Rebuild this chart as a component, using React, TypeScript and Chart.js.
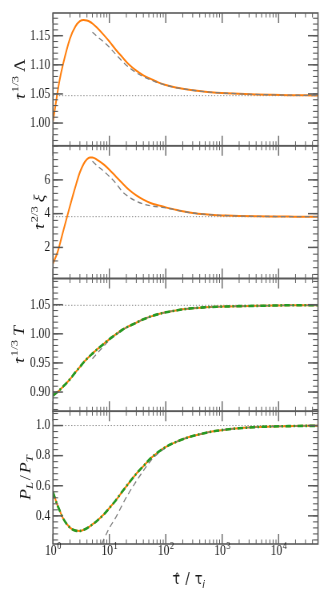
import { useEffect, useRef } from 'react';
import { Chart, registerables } from 'chart.js';

Chart.register(...registerables);

// ---------------- data ----------------
const tau = [1, 1.2, 1.3, 1.5, 2, 2.5, 3, 3.5, 4, 4.5, 5, 6, 8, 10, 13, 17, 22, 30, 40, 55, 75, 100, 150, 200, 300, 500, 800, 1200, 2000, 4000, 8000, 15000, 30000, 50000];
const lambdaScaled = [1.003, 1.052, 1.072, 1.1, 1.145, 1.166, 1.175, 1.177, 1.176, 1.174, 1.171, 1.164, 1.151, 1.14, 1.126, 1.113, 1.101, 1.09, 1.082, 1.0755, 1.0695, 1.0653, 1.061, 1.0588, 1.0563, 1.0538, 1.0522, 1.0512, 1.0502, 1.0491, 1.0484, 1.0479, 1.0476, 1.0474];
const xiScaled = [1.05, 1.7, 2.1, 2.9, 4.45, 5.6, 6.45, 6.95, 7.22, 7.33, 7.33, 7.2, 6.9, 6.6, 6.2, 5.8, 5.43, 5.08, 4.83, 4.62, 4.49, 4.37, 4.23, 4.14, 4.04, 3.96, 3.91, 3.885, 3.86, 3.84, 3.83, 3.825, 3.82, 3.82];
const tempScaled = [0.894, 0.9, 0.903, 0.909, 0.922, 0.934, 0.943, 0.951, 0.957, 0.962, 0.966, 0.973, 0.983, 0.991, 0.999, 1.007, 1.013, 1.019, 1.025, 1.03, 1.034, 1.037, 1.04, 1.042, 1.044, 1.0455, 1.0465, 1.047, 1.0475, 1.048, 1.0485, 1.049, 1.049, 1.049];
const pressureRatio = [0.56, 0.47, 0.44, 0.385, 0.322, 0.302, 0.3, 0.307, 0.318, 0.33, 0.343, 0.366, 0.41, 0.452, 0.503, 0.562, 0.617, 0.68, 0.73, 0.785, 0.826, 0.858, 0.89, 0.909, 0.93, 0.951, 0.965, 0.974, 0.982, 0.99, 0.994, 0.996, 0.998, 0.998];

const tauAsym = [5, 6, 8, 10, 13, 17, 22, 30, 40, 55, 75, 100, 150, 200, 300, 500, 800, 1200, 2000, 4000, 8000, 15000, 30000, 50000];
const lambdaAsym = [1.156, 1.149, 1.139, 1.13, 1.118, 1.106, 1.096, 1.0865, 1.0795, 1.074, 1.0688, 1.065, 1.061, 1.0588, 1.0563, 1.0538, 1.0522, 1.0512, 1.0502, 1.0491, 1.0484, 1.0479, 1.0476, 1.0474];
const xiAsym = [7.1, 6.85, 6.5, 6.2, 5.8, 5.3, 5.0, 4.73, 4.57, 4.46, 4.39, 4.34, 4.22, 4.135, 4.04, 3.96, 3.91, 3.885, 3.86, 3.84, 3.83, 3.825, 3.82, 3.82];
const tempAsym = [0.957, 0.966, 0.979, 0.989, 0.998, 1.006, 1.013, 1.019, 1.025, 1.03, 1.034, 1.037, 1.04, 1.042, 1.044, 1.0455, 1.0465, 1.047, 1.0475, 1.048, 1.0485, 1.049, 1.049, 1.049];
const tauAsymP = [7.3, 8, 10, 13, 17, 22, 30, 40, 55, 75, 100, 150, 200, 300, 500, 800, 1200, 2000, 4000, 8000, 15000, 30000, 50000];
const pressureAsym = [0.213, 0.245, 0.32, 0.39, 0.475, 0.55, 0.63, 0.7, 0.77, 0.818, 0.854, 0.89, 0.909, 0.93, 0.951, 0.965, 0.974, 0.982, 0.99, 0.994, 0.996, 0.998, 0.998];

const lambdaLimit = 1.047;
const xiLimit = 3.82;
const tempLimit = 1.049;
const pressureLimit = 1.0;

const xMin = 1;
const xMax = 50000;
const xMajorTicks = [1, 10, 100, 1000, 10000];
const xTickExponents = ['0', '1', '2', '3', '4'];

const lambdaTicks = [1.0, 1.05, 1.1, 1.15];
const lambdaTickLabels = ['1.00', '1.05', '1.10', '1.15'];
const xiTicks = [2, 4, 6];
const xiTickLabels = ['2', '4', '6'];
const tempTicks = [0.9, 0.95, 1.0, 1.05];
const tempTickLabels = ['0.90', '0.95', '1.00', '1.05'];
const pressureTicks = [0.4, 0.6, 0.8, 1.0];
const pressureTickLabels = ['0.4', '0.6', '0.8', '1.0'];

// ---------------- layout / style ----------------
const SX = 0.8; // horizontal squash of the figure
const CW = Math.round(332 / SX);
const CH = 598;
const PLOT_L = 53 / SX;
const PLOT_R = 318 / SX;
const PLOT_T = 13;
const PLOT_B = 544;

const ORANGE = '#ff7f0e';
const GREEN = '#259a25';
const GRAY = '#808080';
const FRAME = '#5a5a5a';
const TEXT = '#1a1a1a';
const SERIF = "'Liberation Serif', 'Times New Roman', serif";
const SANS = "'DejaVu Sans', sans-serif";
const TICK_SIZE = 14.5;
const TITLE_SIZE = 18;

type Part = { t: string; italic?: boolean; scale?: number; dy?: number; hat?: boolean; gap?: number };

// listed top to bottom
const panels = [
  { id: 'y1', min: 0.961, max: 1.189, ticks: lambdaTicks, labels: lambdaTickLabels, minorStep: 0.01, titleX: 24.5,
    title: [{ t: 'τ', italic: true, hat: true }, { t: '1/3', scale: 0.7, dy: -0.42, gap: 0.06 }, { t: 'Λ', gap: 0.22 }] as Part[] },
  { id: 'y2', min: 0.16, max: 8.02, ticks: xiTicks, labels: xiTickLabels, minorStep: 0.4, titleX: 44,
    title: [{ t: 'τ', italic: true, hat: true }, { t: '2/3', scale: 0.7, dy: -0.42, gap: 0.06 }, { t: 'ξ', italic: true, gap: 0.22 }] as Part[] },
  { id: 'y3', min: 0.867, max: 1.095, ticks: tempTicks, labels: tempTickLabels, minorStep: 0.01, titleX: 24,
    title: [{ t: 'τ', italic: true, hat: true }, { t: '1/3', scale: 0.7, dy: -0.42, gap: 0.06 }, { t: 'T', italic: true, gap: 0.22 }] as Part[] },
  { id: 'y4', min: 0.213, max: 1.095, ticks: pressureTicks, labels: pressureTickLabels, minorStep: 0.04, titleX: 30,
    title: [{ t: 'P', italic: true }, { t: 'L', italic: true, scale: 0.7, dy: 0.22 }, { t: '/', gap: 0.1 }, { t: 'P', italic: true, gap: 0.1 }, { t: 'T', italic: true, scale: 0.7, dy: 0.22 }] as Part[] },
];

const xTitle: Part[] = [{ t: 'τ', hat: true }, { t: '/', gap: 0.4 }, { t: 'τ', gap: 0.4 }, { t: 'i', italic: true, scale: 0.7, dy: 0.25 }];

function fontOf(p: Part, size: number, family: string) {
  return `${p.italic ? 'italic ' : ''}${size * (p.scale || 1)}px ${family}`;
}

function drawRich(ctx: CanvasRenderingContext2D, parts: Part[], size: number, family: string, cx: number, cy: number, rotate: boolean) {
  let total = 0;
  const widths: number[] = [];
  for (const p of parts) {
    ctx.font = fontOf(p, size, family);
    const w = ctx.measureText(p.t).width;
    widths.push(w);
    total += (p.gap || 0) * size + w;
  }
  ctx.save();
  ctx.translate(cx, cy);
  if (rotate) ctx.rotate(-Math.PI / 2);
  ctx.textAlign = 'left';
  ctx.textBaseline = 'alphabetic';
  let x = -total / 2;
  parts.forEach((p, i) => {
    x += (p.gap || 0) * size;
    ctx.font = fontOf(p, size, family);
    const y = (p.dy || 0) * size;
    ctx.fillText(p.t, x, y);
    if (p.hat) {
      ctx.font = `${size * 0.85}px ${family}`;
      ctx.textAlign = 'center';
      ctx.fillText('ˆ', x + widths[i] * 0.6, y + size * 0.02);
      ctx.textAlign = 'left';
    }
    x += widths[i];
  });
  ctx.restore();
}

function minorValues(min: number, max: number, step: number) {
  const out: number[] = [];
  const start = Math.ceil(min / step - 1e-9);
  for (let k = start; k * step <= max + 1e-9; k++) out.push(Math.round(k * step * 1e6) / 1e6);
  return out;
}

const framePlugin = {
  id: 'framePlugin',
  afterDraw(chart: any) {
    const ctx: CanvasRenderingContext2D = chart.ctx;
    const xs = chart.scales.x;
    const left = chart.chartArea.left;
    const right = chart.chartArea.right;
    const xMinor: number[] = [];
    for (let d = 0; d <= 4; d++) for (let k = 2; k <= 9; k++) { const v = k * Math.pow(10, d); if (v <= xMax) xMinor.push(v); }
    ctx.save();
    ctx.strokeStyle = FRAME;
    for (const p of panels) {
      const ys = chart.scales[p.id];
      const top = ys.top;
      const bottom = ys.bottom;
      const seg = (x1: number, y1: number, x2: number, y2: number) => { ctx.beginPath(); ctx.moveTo(x1, y1); ctx.lineTo(x2, y2); ctx.stroke(); };
      ctx.lineWidth = 1.3;
      for (const v of xMajorTicks) { const x = xs.getPixelForValue(v); seg(x, bottom, x, bottom - 10); seg(x, top, x, top + 10); }
      ctx.lineWidth = 1.0;
      for (const v of xMinor) { const x = xs.getPixelForValue(v); seg(x, bottom, x, bottom - 4.5); seg(x, top, x, top + 4.5); }
      ctx.lineWidth = 1.5;
      for (const v of p.ticks) { const y = ys.getPixelForValue(v); seg(left, y, left + 10 / SX, y); seg(right, y, right - 10 / SX, y); }
      ctx.lineWidth = 1.1;
      for (const v of minorValues(p.min, p.max, p.minorStep)) { const y = ys.getPixelForValue(v); seg(left, y, left + 5 / SX, y); seg(right, y, right - 5 / SX, y); }
      ctx.lineWidth = 1.6;
      ctx.strokeRect(left, top, right - left, bottom - top);
      ctx.fillStyle = TEXT;
      drawRich(ctx, p.title, TITLE_SIZE, SERIF, p.titleX / SX, (top + bottom) / 2, true);
    }
    ctx.fillStyle = TEXT;
    ctx.textBaseline = 'alphabetic';
    ctx.textAlign = 'left';
    xMajorTicks.forEach((v, i) => {
      const x = xs.getPixelForValue(v);
      ctx.font = `${TICK_SIZE}px ${SERIF}`;
      const wb = ctx.measureText('10').width;
      ctx.font = `10px ${SERIF}`;
      const we = ctx.measureText(xTickExponents[i]).width;
      const start = x - (wb + we + 0.5) / 2;
      ctx.font = `${TICK_SIZE}px ${SERIF}`;
      ctx.fillText('10', start, 554.5);
      ctx.font = `10px ${SERIF}`;
      ctx.fillText(xTickExponents[i], start + wb + 0.8, 548.5);
    });
    drawRich(ctx, xTitle, 16, SANS, 188.7 / SX, 584, false);
    ctx.restore();
  },
};

function pts(xs: number[], ys: number[]) {
  return xs.map((x, i) => ({ x, y: ys[i] }));
}

function line(label: string, data: any[], yAxisID: string, color: string, width: number, dash: number[], order: number) {
  return {
    label, data, yAxisID, xAxisID: 'x', borderColor: color, backgroundColor: color, borderWidth: width,
    borderDash: dash, pointRadius: 0, fill: false, cubicInterpolationMode: 'monotone', order,
  };
}

export default function App() {
  const ref = useRef<HTMLCanvasElement | null>(null);
  useEffect(() => {
    if (!ref.current) return;
    const DOT = [1.4, 2.4];
    const DASH = [6, 4];
    const DASHDOT = [7, 3, 2, 3];
    const yScales: any = {};
    // stacked axes are placed bottom-up, so register them in reverse
    [...panels].reverse().forEach((p) => {
      yScales[p.id] = {
        type: 'linear', position: 'left', stack: 'panels', stackWeight: 1, offset: false,
        min: p.min, max: p.max,
        grid: { display: false, drawTicks: false }, border: { display: false },
        afterBuildTicks: (s: any) => { s.ticks = p.ticks.map((v) => ({ value: v })); },
        afterFit: (s: any) => { s.width = PLOT_L; },
        ticks: {
          padding: 3.5, color: TEXT, font: { family: SERIF, size: TICK_SIZE },
          callback: (_v: any, i: number) => p.labels[i],
        },
      };
    });
    const chart = new Chart(ref.current, {
      type: 'line',
      data: {
        datasets: [
          line('T green', pts(tau, tempScaled), 'y3', GREEN, 2.6, DASHDOT, 0),
          line('P green', pts(tau, pressureRatio), 'y4', GREEN, 2.6, DASHDOT, 0),
          line('Λ asym', pts(tauAsym, lambdaAsym), 'y1', GRAY, 1.3, DASH, 1),
          line('ξ asym', pts(tauAsym, xiAsym), 'y2', GRAY, 1.3, DASH, 1),
          line('T asym', pts(tauAsym, tempAsym), 'y3', GRAY, 1.3, DASH, 1),
          line('P asym', pts(tauAsymP, pressureAsym), 'y4', GRAY, 1.3, DASH, 1),
          line('Λ', pts(tau, lambdaScaled), 'y1', ORANGE, 2.0, [], 2),
          line('ξ', pts(tau, xiScaled), 'y2', ORANGE, 2.0, [], 2),
          line('T', pts(tau, tempScaled), 'y3', ORANGE, 2.0, [], 2),
          line('P', pts(tau, pressureRatio), 'y4', ORANGE, 2.0, [], 2),
          line('Λ lim', pts([xMin, xMax], [lambdaLimit, lambdaLimit]), 'y1', GRAY, 1.0, DOT, 3),
          line('ξ lim', pts([xMin, xMax], [xiLimit, xiLimit]), 'y2', GRAY, 1.0, DOT, 3),
          line('T lim', pts([xMin, xMax], [tempLimit, tempLimit]), 'y3', GRAY, 1.0, DOT, 3),
          line('P lim', pts([xMin, xMax], [pressureLimit, pressureLimit]), 'y4', GRAY, 1.0, DOT, 3),
        ] as any,
      },
      options: {
        animation: false,
        responsive: false,
        devicePixelRatio: 1,
        maintainAspectRatio: false,
        layout: { padding: { left: 0, right: CW - PLOT_R, top: PLOT_T, bottom: 0 } },
        plugins: { legend: { display: false }, tooltip: { enabled: false } },
        events: [],
        scales: {
          x: {
            type: 'logarithmic', position: 'bottom', min: xMin, max: xMax,
            grid: { display: false, drawTicks: false }, border: { display: false },
            ticks: { display: false },
            afterBuildTicks: (s: any) => { s.ticks = xMajorTicks.map((v) => ({ value: v })); },
            afterFit: (s: any) => { s.height = CH - PLOT_B; },
          },
          ...yScales,
        },
      } as any,
      plugins: [framePlugin],
    });
    return () => chart.destroy();
  }, []);
  return (
    <div style={{ position: 'fixed', left: 0, top: 0, width: 332, height: 598, background: '#fff' }}>
      <canvas ref={ref} width={CW} height={CH} style={{ width: '332px', height: '598px', display: 'block' }} />
    </div>
  );
}
